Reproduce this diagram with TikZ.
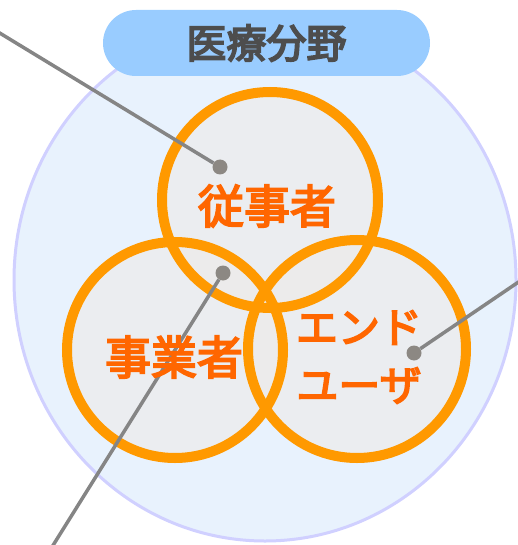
\documentclass[tikz,border=0pt]{standalone}
\usepackage{fontspec}
\newfontfamily\cjk{Noto Sans CJK JP}[FakeBold=4]
\newfontfamily\cjktitle{Noto Sans CJK JP}[FakeBold=4.5]
\usetikzlibrary{shapes.geometric}
\definecolor{bigfill}{HTML}{E8F2FD}
\definecolor{bigline}{HTML}{D0D0FF}
\definecolor{pill}{HTML}{99CCFF}
\definecolor{titletxt}{HTML}{4D4D4D}
\definecolor{ring}{HTML}{FF9900}
\definecolor{ringfill}{HTML}{EEEBE8}
\definecolor{lbltxt}{HTML}{FF6600}
\definecolor{conn}{HTML}{858585}
\definecolor{dotc}{HTML}{8C8883}
\begin{document}
\begin{tikzpicture}[x=1pt,y=-1pt,
  bigcirc/.style={ellipse,draw=bigline,line width=3pt,fill=bigfill,minimum width=502pt,minimum height=522pt,inner sep=0pt},
  titlebox/.style={rectangle,rounded corners=33pt,fill=pill,minimum width=327pt,minimum height=66pt,inner sep=0pt,text=titletxt,font=\cjktitle\fontsize{40}{40}\selectfont},
  ringfillc/.style={circle,fill=ringfill,fill opacity=0.6,minimum size=#1,inner sep=0pt},
  ringc/.style={circle,draw=ring,line width=10pt,minimum size=#1,inner sep=0pt},
  lbl/.style={text=lbltxt,font=\cjk\fontsize{46}{46}\selectfont,inner sep=0pt},
  lblk/.style={text=lbltxt,font=\cjk\fontsize{42}{58}\selectfont,inner sep=0pt,align=center},
  connline/.style={draw=conn,line width=3.5pt},
  dotn/.style={circle,fill=dotc,minimum size=15pt,inner sep=0pt}
]
\useasboundingbox (0,0) rectangle (518,545);
\node[bigcirc] (big) at (265,280) {};
\node[titlebox] (title) at (266.5,43) {医療分野};
\node[ringfillc=216pt] (f1) at (270,200) {};
\node[ringfillc=216pt] (f2) at (175,350) {};
\node[ringfillc=218pt] (f3) at (357,349) {};
\node[ringc=216pt] (c1) at (270,200) {};
\node[ringc=216pt] (c2) at (175,350) {};
\node[ringc=218pt] (c3) at (357,349) {};
\coordinate (e1) at (-2,32);
\coordinate (e2) at (52,547);
\coordinate (e3) at (520,281);
\node[dotn] (d1) at (220,167) {};
\node[dotn] (d2) at (223,273) {};
\node[dotn] (d3) at (414,353) {};
\draw[connline] (e1) -- (d1);
\draw[connline] (e2) -- (d2);
\draw[connline] (e3) -- (d3);
\node[lbl] (t1) at (267,206) {従事者};
\node[lbl] (t2) at (174,357) {事業者};
\node[lblk] (t3) at (359,357) {エンド\\ユーザ};
\end{tikzpicture}
\end{document}
